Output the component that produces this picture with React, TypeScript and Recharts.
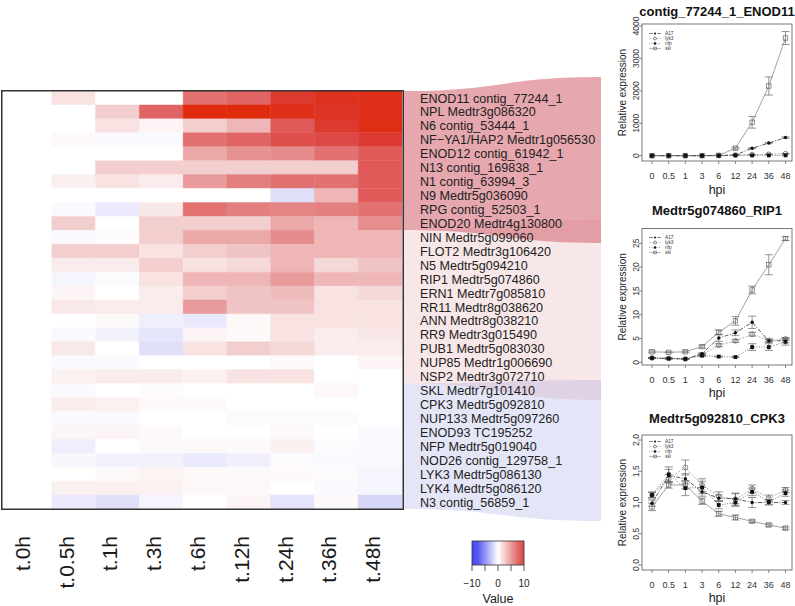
import React from 'react';
import { BarChart, Bar, Cell, XAxis, YAxis, LineChart, Line, ErrorBar, Legend } from 'recharts';

const FONT = '"Liberation Sans", Arial, Helvetica, sans-serif';

// ---- heatmap data ----
const timeLabels = ['t.0h', 't.0.5h', 't.1h', 't.3h', 't.6h', 't.12h', 't.24h', 't.36h', 't.48h'];

const genes = [
  'ENOD11 contig_77244_1', 'NPL Medtr3g086320', 'N6 contig_53444_1', 'NF\u2212YA1/HAP2 Medtr1g056530',
  'ENOD12 contig_61942_1', 'N13 contig_169838_1', 'N1 contig_63994_3', 'N9 Medtr5g036090',
  'RPG contig_52503_1', 'ENOD20 Medtr4g130800', 'NIN Medtr5g099060', 'FLOT2 Medtr3g106420',
  'N5 Medtr5g094210', 'RIP1 Medtr5g074860', 'ERN1 Medtr7g085810', 'RR11 Medtr8g038620',
  'ANN Medtr8g038210', 'RR9 Medtr3g015490', 'PUB1 Medtr5g083030', 'NUP85 Medtr1g006690',
  'NSP2 Medtr3g072710', 'SKL Medtr7g101410', 'CPK3 Medtr5g092810', 'NUP133 Medtr5g097260',
  'ENOD93 TC195252', 'NFP Medtr5g019040', 'NOD26 contig_129758_1', 'LYK3 Medtr5g086130',
  'LYK4 Medtr5g086120', 'N3 contig_56859_1',
];

// log fold change vs t.0h, one row per gene
const logFC = [
  [0, 1.5, 0, 0, 6, 6.5, 8.6, 9.3, 9.5],
  [0, 0, 2.5, 6.5, 10, 10, 9.5, 9, 9.5],
  [0, 0, 1.5, 0.5, 2.5, 3.5, 7, 8.6, 9.6],
  [0, 0.3, -0.3, -0.3, 6, 6.5, 7.5, 7.8, 8.5],
  [0, 0, 0, 0, 4, 4.8, 5, 6, 7],
  [0, 0, 2.5, 2.5, 2.5, 2.5, 2.5, 2.5, 7],
  [0, 0.8, 1.5, 1, 4.5, 5.5, 6, 6, 7],
  [0, 0, 0, 0, 0, 0, -1.5, 3.5, 7],
  [0, -0.3, -1, 1.2, 6, 5.5, 5.3, 5.5, 6],
  [0, 2.5, 0, 2.5, 2.5, 2.5, 4, 3.5, 5],
  [0, -0.3, 0.2, 2.5, 4, 4, 5, 3.5, 3.5],
  [0, 2.5, 2.5, 1.5, 2.5, 3, 3.5, 3.5, 3.5],
  [0, 1, 1, 2.5, 1.5, 2, 3.5, 2, 3],
  [0, -0.5, -0.2, 1.5, 3.5, 3.5, 4.5, 3.5, 3.5],
  [0, 0.5, 0, 1, 2.5, 3, 3.3, 1.5, 2],
  [0, 1.2, 1, 1, 4.5, 3, 3, 1.5, 1.5],
  [0, 0, 0.3, -0.8, -1, 0.3, 1.5, 1.5, 1.5],
  [0, -0.3, -0.6, -1.2, 0.5, 0.3, 1.5, 1, 1.3],
  [0, 1.2, 0, -1.5, 1.5, 2.5, 2, 1, 1],
  [0, -0.3, -0.3, 0, 0, 0, 0.3, 0, 0.5],
  [0, 0.7, 1, 1, 0.7, 1.5, 1.5, 0, 0],
  [0, -0.3, 0, 0.2, 0, 0, 0, 0.4, 0],
  [0, 1, 0.7, 0.3, 0.3, 0, 0, 0, 0],
  [0, -0.3, -0.3, 0, 0, -0.2, -0.2, -0.2, 0],
  [0, 0.5, 0.5, 0.3, 0, 0, 0.3, 0, -0.3],
  [0, -0.8, 0, 0.3, 0.3, 0.3, 0.8, -0.2, -0.3],
  [0, -0.4, -0.6, -0.6, -1, -0.7, -0.2, -0.3, -0.3],
  [0, 0, 0.3, 0.6, 0.3, 0.3, 0.3, -0.2, -0.5],
  [0, 0.8, 0.8, 0.7, 0.4, 0.4, 0, -0.3, -0.5],
  [0, -1, -1.5, -0.5, 0, 0.5, -1.3, 0.3, -2],
];

const keyTicks = [-10, -5, 0, 5, 10];
const keyLabels = [-10, 0, 10];

// ---- expression panels ----
const hpi = ['0', '0.5', '1', '3', '6', '12', '24', '36', '48'];

const enodA17 = [0, 0, 0, 0, 5, 20, 230, 390, 560];
const enodLyk3 = [0, 0, 0, 0, 5, 20, 30, 40, 60];
const enodNfp = [0, 0, 0, 0, 0, 10, 10, 10, 10];
const enodSkl = [0, 0, 0, 0, 10, 230, 1030, 2150, 3630];
const enodA17Err = [0, 0, 0, 0, 0, 5, 15, 20, 20];
const enodLyk3Err = [0, 0, 0, 0, 0, 5, 5, 5, 10];
const enodNfpErr = [0, 0, 0, 0, 0, 0, 0, 0, 0];
const enodSklErr = [0, 0, 0, 0, 5, 30, 180, 280, 200];

const rip1A17 = [0.9, 0.8, 0.7, 1.8, 5.1, 6.2, 8.4, 4.5, 4.5];
const rip1Lyk3 = [0.9, 0.8, 0.7, 1.6, 3.6, 4.5, 5.9, 4.6, 4.9];
const rip1Nfp = [0.9, 0.8, 0.7, 1.4, 1.2, 1.1, 3.2, 3.2, 4.3];
const rip1Skl = [2.2, 2.1, 2.2, 3.3, 6.3, 8.7, 15.2, 20.5, 26.0];
const rip1A17Err = [0.1, 0.1, 0.1, 0.2, 0.7, 0.6, 1.3, 0.3, 0.4];
const rip1Lyk3Err = [0.1, 0.1, 0.1, 0.2, 0.3, 0.3, 0.4, 0.3, 0.3];
const rip1NfpErr = [0.1, 0.1, 0.1, 0.2, 0.1, 0.1, 0.7, 0.7, 0.7];
const rip1SklErr = [0.2, 0.1, 0.2, 0.3, 0.5, 0.9, 0.8, 2.1, 0.4];

const cpk3A17 = [0.99, 1.43, 1.38, 1.17, 1.07, 1.06, 1.0, 1.0, 1.0];
const cpk3Lyk3 = [1.12, 1.38, 1.56, 1.28, 1.1, 1.05, 1.22, 1.07, 1.2];
const cpk3Nfp = [1.12, 1.45, 1.23, 1.24, 0.96, 1.0, 1.17, 1.01, 1.15];
const cpk3Skl = [0.93, 1.28, 1.28, 1.02, 0.82, 0.76, 0.7, 0.64, 0.59];
const cpk3A17Err = [0.05, 0.1, 0.08, 0.07, 0.05, 0.08, 0.08, 0.04, 0.03];
const cpk3Lyk3Err = [0.05, 0.07, 0.12, 0.1, 0.07, 0.1, 0.06, 0.05, 0.04];
const cpk3NfpErr = [0.04, 0.12, 0.12, 0.1, 0.06, 0.06, 0.06, 0.04, 0.05];
const cpk3SklErr = [0.06, 0.05, 0.06, 0.05, 0.04, 0.04, 0.02, 0.02, 0.02];

const makeRows = (a17: number[], lyk3: number[], nfp: number[], skl: number[], ea: number[], el: number[], en: number[], es: number[]) =>
  hpi.map((h, i) => ({
    hpi: h, A17: a17[i], lyk3: lyk3[i], nfp: nfp[i], skl: skl[i],
    A17Err: ea[i], lyk3Err: el[i], nfpErr: en[i], sklErr: es[i],
  }));

const enodRows = makeRows(enodA17, enodLyk3, enodNfp, enodSkl, enodA17Err, enodLyk3Err, enodNfpErr, enodSklErr);
const rip1Rows = makeRows(rip1A17, rip1Lyk3, rip1Nfp, rip1Skl, rip1A17Err, rip1Lyk3Err, rip1NfpErr, rip1SklErr);
const cpk3Rows = makeRows(cpk3A17, cpk3Lyk3, cpk3Nfp, cpk3Skl, cpk3A17Err, cpk3Lyk3Err, cpk3NfpErr, cpk3SklErr);

// ---- colours ----
const redStops: [number, number[]][] = [
  [0, [255, 255, 255]], [1.5, [248, 226, 226]], [3, [240, 196, 196]], [5, [230, 140, 140]],
  [6.5, [224, 100, 100]], [8.5, [220, 58, 50]], [10, [224, 42, 12]],
];
const blueStops: [number, number[]][] = [
  [0, [255, 255, 255]], [1, [234, 234, 252]], [2, [214, 214, 248]], [10, [64, 64, 240]],
];

function heatColor(v: number) {
  const stops = v >= 0 ? redStops : blueStops;
  const a = Math.min(Math.abs(v), 10);
  for (let i = 1; i < stops.length; i++) {
    if (a <= stops[i][0]) {
      const [a0, c0] = stops[i - 1];
      const [a1, c1] = stops[i];
      const t = (a - a0) / (a1 - a0);
      return `rgb(${c0.map((c, j) => Math.round(c + (c1[j] - c) * t)).join(',')})`;
    }
  }
  return 'rgb(224,42,12)';
}

// rough Arial advance widths (em) for the column labels
const charW: Record<string, number> = { t: 0.278, '.': 0.278, h: 0.556 };
const textLen = (s: string, fs: number) => s.split('').reduce((a, c) => a + (charW[c] ?? 0.556), 0) * fs;

// ---- heatmap ----
const HM_W = 394;
const HM_H = 418;
const COL_FS = 21;

const heatRows = genes.map((g) => {
  const row: any = { gene: g };
  timeLabels.forEach((_, j) => { row['c' + j] = 1; });
  return row;
});

// rotated column labels, all hanging from the same line under the heatmap box
const HeatXTick = ({ x, payload }: any) => {
  const label = timeLabels[Math.floor(payload.value)];
  const cy = HM_H + 27 + textLen(label, COL_FS) / 2;
  return (
    <text transform={`translate(${x},${cy}) rotate(-90)`} textAnchor="middle" fontSize={COL_FS} fontFamily={FONT} fill="#1a1a1a">
      {label}
    </text>
  );
};

const GeneTick = ({ y, payload }: any) => (
  <text x={420} y={y} dy="0.36em" fontSize={12.6} fontFamily={FONT} fill="#222">{payload.value}</text>
);

function Heatmap() {
  return (
    <BarChart width={602} height={508} data={heatRows} layout="vertical" barCategoryGap={0} barGap={0}
      margin={{ top: 0, right: 0, bottom: 0, left: 8 }}>
      <XAxis type="number" domain={[0, 9]} ticks={timeLabels.map((_, j) => j + 0.5)} interval={0}
        height={508 - HM_H} tickSize={0} tickMargin={0} axisLine={false} tickLine={false} tick={HeatXTick} />
      <YAxis type="category" dataKey="gene" orientation="right" width={602 - 8 - HM_W} interval={0}
        tickSize={0} tickMargin={0} axisLine={false} tickLine={false} tick={GeneTick} />
      {timeLabels.map((t, j) => (
        <Bar key={t} dataKey={'c' + j} stackId="hm" isAnimationActive={false}>
          {genes.map((g, i) => {
            const c = heatColor(logFC[i][j]);
            return <Cell key={g} fill={c} stroke={c} strokeWidth={0.4} />;
          })}
        </Bar>
      ))}
    </BarChart>
  );
}

// ---- expression line panels ----
const seriesStyle: Record<string, { stroke: string; dash?: string }> = {
  skl: { stroke: '#8a8a8a' },
  lyk3: { stroke: '#9a9a9a', dash: '2 1.5' },
  nfp: { stroke: '#555', dash: '1 1.5' },
  A17: { stroke: '#333', dash: '4 1.5 1 1.5' },
};
const legendOrder = ['A17', 'lyk3', 'nfp', 'skl'];

function marker(kind: string, cx: number, cy: number, s = 1, key?: any) {
  if (kind === 'A17') return <circle key={key} cx={cx} cy={cy} r={1.7 * s} fill="#111" />;
  if (kind === 'lyk3') return <circle key={key} cx={cx} cy={cy} r={2.4 * s} fill="none" stroke="#555" strokeWidth={0.7} />;
  if (kind === 'nfp') return <rect key={key} x={cx - 1.9 * s} y={cy - 1.9 * s} width={3.8 * s} height={3.8 * s} fill="#111" />;
  return <rect key={key} x={cx - 2.2 * s} y={cy - 2.2 * s} width={4.4 * s} height={4.4 * s} fill="none" stroke="#666" strokeWidth={0.7} />;
}

const LegendBox = () => (
  <svg width={40} height={22} style={{ display: 'block' }}>
    {legendOrder.map((k, i) => {
      const y = 2.5 + i * 5;
      return (
        <g key={k}>
          <line x1={3} x2={15} y1={y} y2={y} stroke={seriesStyle[k].stroke} strokeWidth={0.6} strokeDasharray={seriesStyle[k].dash} />
          {marker(k, 9, y, 0.6)}
          <text x={19} y={y + 1.7} fontSize={4.8} fontFamily={FONT} fill="#333">{k}</text>
        </g>
      );
    })}
  </svg>
);

interface PanelProps {
  rows: any[];
  domain: [number, number];
  ticks: number[];
  fmt: (v: number) => string;
  height: number;
  mTop: number;
  mBottom: number;
  legendTop: number;
}

function ExprPanel({ rows, domain, ticks, fmt, height, mTop, mBottom, legendTop }: PanelProps) {
  return (
    <LineChart width={195} height={height} data={rows} margin={{ top: mTop, right: 3, bottom: mBottom, left: 0 }}>
      <XAxis dataKey="hpi" type="category" padding={{ left: 10, right: 6.5 }} interval={0} height={28}
        tickSize={3} tickMargin={9} axisLine={false} tickLine={{ stroke: '#555', strokeWidth: 0.7 }}
        tick={{ fontSize: 9, fill: '#333', fontFamily: FONT }} />
      <YAxis type="number" domain={domain} ticks={ticks} allowDataOverflow interval={0} width={42}
        tickSize={3} tickMargin={2} axisLine={false} tickLine={{ stroke: '#555', strokeWidth: 0.7 }}
        tick={(p: any) => (
          <text transform={`translate(${p.x + 2},${p.y}) rotate(-90)`} textAnchor="middle" fontSize={8.5} fill="#333" fontFamily={FONT}>
            {fmt(p.payload.value)}
          </text>
        )} />
      <Legend layout="vertical" align="center" verticalAlign="middle" content={() => <LegendBox />}
        wrapperStyle={{ position: 'absolute', left: 46, top: legendTop, width: 40, height: 22 }} />
      {['skl', 'lyk3', 'nfp', 'A17'].map((k) => (
        <Line key={k} dataKey={k} name={k} type="linear" stroke={seriesStyle[k].stroke} strokeWidth={0.8}
          strokeDasharray={seriesStyle[k].dash} isAnimationActive={false} activeDot={false}
          dot={(p: any) => marker(k, p.cx, p.cy, 1, p.index)}>
          <ErrorBar dataKey={k + 'Err'} width={4} stroke="#666" strokeWidth={0.7} isAnimationActive={false} />
        </Line>
      ))}
    </LineChart>
  );
}

// ---- decorations ----
const band = (xl: number, xr: number, l0: number, l1: number, r0: number, r1: number) => {
  const m = (xl + xr) / 2;
  return `M${xl},${l0} C${m},${l0} ${m},${r0} ${xr},${r0} L${xr},${r1} C${m},${r1} ${m},${l1} ${xl},${l1} Z`;
};

function Bands() {
  return (
    <svg width={795} height={606} style={{ position: 'absolute', left: 0, top: 0 }}>
      <path d={band(403, 601, 91, 230, 77, 243)} fill="rgba(200,60,75,0.45)" />
      <path d={band(403, 601, 230, 383.5, 220, 400)} fill="rgba(215,120,130,0.18)" />
      <path d={band(403, 601, 383.5, 509, 380, 521)} fill="rgba(120,130,215,0.2)" />
    </svg>
  );
}

const panelFrames = [
  { title: 'contig_77244_1_ENOD11', titleY: 16, top: 24, bottom: 161, hpiY: 194 },
  { title: 'Medtr5g074860_RIP1', titleY: 215.3, top: 228.6, bottom: 365, hpiY: 397 },
  { title: 'Medtr5g092810_CPK3', titleY: 422.6, top: 435, bottom: 570, hpiY: 601.5 },
];

const kx = (v: number) => 472 + ((v + 10) / 20) * 52;
const fmtKey = (v: number) => (v < 0 ? '\u2212' + Math.abs(v) : String(v));

function Overlay() {
  return (
    <svg width={795} height={606} style={{ position: 'absolute', left: 0, top: 0, pointerEvents: 'none' }} fontFamily={FONT}>
      <defs>
        <linearGradient id="keyGrad" x1="0" x2="1" y1="0" y2="0">
          <stop offset="0" stopColor="#4646F0" />
          <stop offset="0.12" stopColor="#5A5AF0" />
          <stop offset="0.5" stopColor="#FFFFFF" />
          <stop offset="0.88" stopColor="#E26A6A" />
          <stop offset="1" stopColor="#DC4646" />
        </linearGradient>
      </defs>
      <rect x={1.75} y={90.75} width={401.5} height={418.5} fill="none" stroke="#333" strokeWidth={1.5} />
      {panelFrames.map((f) => (
        <g key={f.title}>
          <text x={717} y={f.titleY} textAnchor="middle" fontSize={13} fontWeight="bold" fill="#111">{f.title}</text>
          <rect x={642} y={f.top} width={150} height={f.bottom - f.top} fill="none" stroke="#555" strokeWidth={0.8} />
          <text x={717} y={f.hpiY} textAnchor="middle" fontSize={12.5} fill="#222">hpi</text>
          <text transform={`translate(625.5,${(f.top + f.bottom) / 2}) rotate(-90)`} textAnchor="middle" fontSize={10} fill="#222">
            Relative expression
          </text>
        </g>
      ))}
      <rect x={472} y={541} width={52} height={24} fill="url(#keyGrad)" stroke="#333" strokeWidth={0.8} />
      {keyTicks.map((v) => (
        <line key={v} x1={kx(v)} x2={kx(v)} y1={565} y2={571} stroke="#333" strokeWidth={0.8} />
      ))}
      {keyLabels.map((v) => (
        <text key={v} x={kx(v)} y={586.5} textAnchor="middle" fontSize={10} fill="#222">{fmtKey(v)}</text>
      ))}
      <text x={498} y={603} textAnchor="middle" fontSize={12.5} fill="#222">Value</text>
    </svg>
  );
}

export default function App() {
  return (
    <div style={{ position: 'fixed', left: 0, top: 0, width: 795, height: 606, background: '#fff', overflow: 'hidden', fontFamily: FONT }}>
      <Bands />
      <div style={{ position: 'absolute', left: 0, top: 91 }}>
        <Heatmap />
      </div>
      <div style={{ position: 'absolute', left: 600, top: 0 }}>
        <ExprPanel rows={enodRows} domain={[-164, 4062]} ticks={[0, 1000, 2000, 3000, 4000]} fmt={(v) => String(v)}
          height={200} mTop={24} mBottom={11} legendTop={30.8} />
      </div>
      <div style={{ position: 'absolute', left: 600, top: 200 }}>
        <ExprPanel rows={rip1Rows} domain={[-0.57, 28.09]} ticks={[0, 5, 10, 15, 20, 25]} fmt={(v) => String(v)}
          height={200} mTop={28.6} mBottom={7} legendTop={34.8} />
      </div>
      <div style={{ position: 'absolute', left: 600, top: 400 }}>
        <ExprPanel rows={cpk3Rows} domain={[-0.08, 2.08]} ticks={[0, 0.5, 1, 1.5, 2]} fmt={(v) => v.toFixed(1)}
          height={206} mTop={35} mBottom={8} legendTop={39.2} />
      </div>
      <Overlay />
    </div>
  );
}
